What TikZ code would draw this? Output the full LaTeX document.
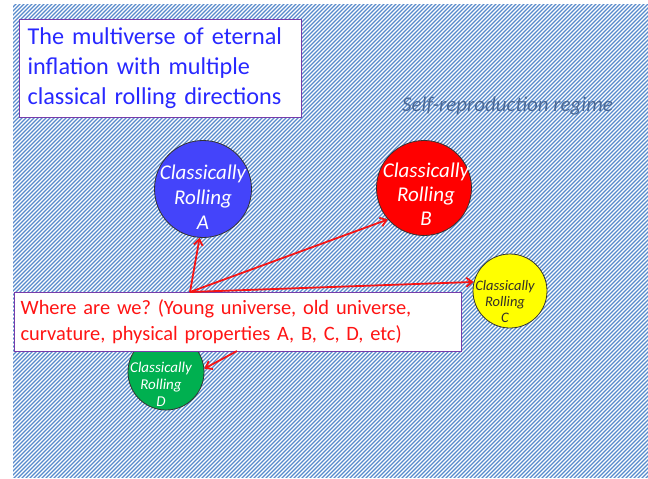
\documentclass[tikz,border=0pt]{standalone}
\usepackage{fontspec}
\setmainfont{Carlito}
\frenchspacing
\usetikzlibrary{arrows.meta}
\definecolor{stripe}{RGB}{88,138,204}
\definecolor{boxborder}{RGB}{120,60,170}
\definecolor{titleblue}{RGB}{40,40,255}
\definecolor{wherered}{RGB}{255,20,20}
\definecolor{regime}{RGB}{75,105,150}
\definecolor{cA}{RGB}{68,68,250}
\definecolor{cB}{RGB}{255,0,0}
\definecolor{cC}{RGB}{255,255,0}
\definecolor{cD}{RGB}{0,176,80}
\definecolor{arrowred}{RGB}{245,20,20}
\tikzset{
  textbox/.style={draw=boxborder, line width=1.2pt, fill=white, anchor=north west, align=left, inner xsep=0pt, inner ysep=0pt},
  blob/.style={circle, draw=black!80, line width=0.8pt, inner sep=0pt},
  lbl/.style={align=center, inner sep=0pt, font=\itshape},
  ptr/.style={draw=arrowred, line width=1.8pt, -{Straight Barb[length=6pt,width=9pt,line width=1.8pt]}}
}
\begin{document}
\begin{tikzpicture}[x=1pt,y=-1pt]
\useasboundingbox (0,0) rectangle (648,479);
% background stripes
\begin{scope}
  \clip (13,4) rectangle (648,477);
  \fill[white] (13,4) rectangle (648,477);
  \foreach \i in {-480,-476,...,660} {
    \draw[stripe, line width=1.25pt] (\i,480) -- (\i+480,0);
  }
\end{scope}
% regime label
\node[anchor=west, text=regime, inner sep=0pt, font=\itshape\fontsize{21}{23}\selectfont] (regime) at (402,106) {Self-reproduction regime};
% circles
\node[blob, fill=cA, minimum size=97pt] (A) at (203,189) {};
\node[blob, fill=cB, minimum size=95pt] (B) at (424,188) {};
\node[blob, fill=cC, minimum size=74pt] (C) at (510,291) {};
\node[blob, fill=cD, minimum size=76pt] (D) at (166,372) {};
\node[lbl, text=white, font=\itshape\fontsize{21}{25}\selectfont] (At) at (203,197) {Classically\\Rolling\\A};
\node[lbl, text=white, font=\itshape\fontsize{21}{24}\selectfont] (Bt) at (426,194) {Classically\\Rolling\\B};
\node[lbl, text=black!85!olive, font=\itshape\fontsize{14.5}{16}\selectfont] (Ct) at (505,302) {Classically\\Rolling\\C};
\node[lbl, text=white, font=\itshape\fontsize{15}{17}\selectfont] (Dt) at (161,384) {Classically\\Rolling\\D};
% text boxes
\node[textbox, minimum width=282pt, minimum height=98pt, text width=282pt, text=titleblue, font=\fontsize{24.2}{30}\selectfont] (title) at (19,19) {\hspace*{8pt}The multiverse of eternal\\\hspace*{8pt}inflation with multiple\\\hspace*{8pt}classical rolling directions};
\node[textbox, minimum width=447pt, minimum height=59pt, text width=447pt, text=wherered, font=\fontsize{20.4}{26}\selectfont] (where) at (14,292) {\hspace*{6pt}Where are we? (Young universe, old universe,\\\hspace*{6pt}curvature, physical properties A, B, C, D, etc)};
% arrows
\coordinate (o) at (190,292);
\coordinate (od) at (237,351);
\draw[ptr] (o) -- (A.266);
\draw[ptr] (o) -- (B.221);
\draw[ptr] (o) -- (C.166);
\draw[ptr] (od) -- (D.5);
\end{tikzpicture}
\end{document}
